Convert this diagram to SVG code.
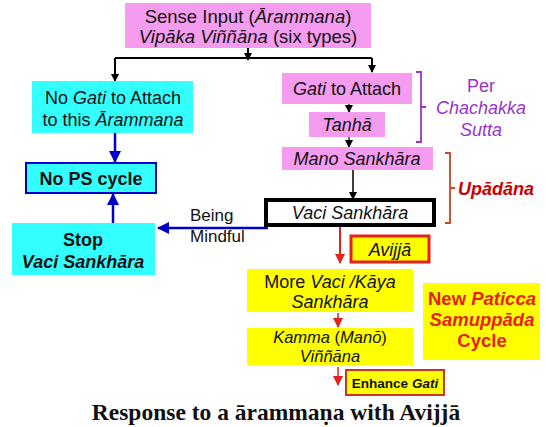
<svg xmlns="http://www.w3.org/2000/svg" width="546" height="427" viewBox="0 0 546 427">
<defs>
<marker id="ak" markerWidth="8" markerHeight="8" refX="7" refY="4" orient="auto" markerUnits="userSpaceOnUse"><path d="M0,0 L8,4 L0,8 Z" fill="#000"/></marker>
<marker id="ab" markerWidth="12" markerHeight="12" refX="11" refY="6" orient="auto" markerUnits="userSpaceOnUse"><path d="M0,0 L12,6 L0,12 Z" fill="#0000cc"/></marker>
<marker id="ar" markerWidth="10" markerHeight="10" refX="9" refY="5" orient="auto" markerUnits="userSpaceOnUse"><path d="M0,0 L10,5 L0,10 Z" fill="#e8201a"/></marker>
</defs>
<style>
text{font-family:"Liberation Sans",Arial,sans-serif;text-anchor:middle;fill:#111}
.pk{fill:#f59cf0}
.cy{fill:#33ffff}
.yl{fill:#ffff00}
.t18{font-size:18.5px}
.t16{font-size:18px}
.b{font-weight:bold}
.i{font-style:italic}
</style>
<rect width="546" height="427" fill="#fff"/>
<g id="connectors" fill="none">
<path d="M248,48 V58 M115,58 H372" stroke="#000" stroke-width="2"/>
<path d="M248,48 V60" stroke="#000" stroke-width="1.5" marker-end="url(#ak)"/>
<path d="M115,58 V81" stroke="#000" stroke-width="2" marker-end="url(#ak)"/>
<path d="M372,58 V72" stroke="#000" stroke-width="2" marker-end="url(#ak)"/>
<path d="M349,104 V112" stroke="#000" stroke-width="1.2" marker-end="url(#ak)"/>
<path d="M349,137 V147" stroke="#000" stroke-width="1.2" marker-end="url(#ak)"/>
<path d="M353,170 V199" stroke="#000" stroke-width="1.5" marker-end="url(#ak)"/>
<path d="M115,133 V162" stroke="#0000cc" stroke-width="2.5" marker-end="url(#ab)"/>
<path d="M113,223 V194" stroke="#0000cc" stroke-width="2.5" marker-end="url(#ab)"/>
<path d="M268,228 H158" stroke="#0000cc" stroke-width="2.5" marker-end="url(#ab)"/>
<path d="M340,226 V263" stroke="#e8201a" stroke-width="2" marker-end="url(#ar)"/>
<path d="M338,313 V327" stroke="#e8201a" stroke-width="1.5" marker-end="url(#ar)"/>
<path d="M338,367 V385" stroke="#e8201a" stroke-width="1.5" marker-end="url(#ar)"/>
<path d="M416,72 H421 V142 H416 M421,107 H426" stroke="#9933cc" stroke-width="1.8"/>
<path d="M445,153 H450 V223 H445 M450,188 H455" stroke="#cc4422" stroke-width="1.8"/>
</g>
<g id="sense-input">
<rect class="pk" x="125" y="3" width="246" height="45"/>
<text class="t18" x="248" y="23">Sense Input (<tspan class="i">Ārammana</tspan>)</text>
<text class="t18" x="248" y="43"><tspan class="i">Vipāka Viññāna</tspan> (six types)</text>
</g>
<g id="no-gati">
<rect class="cy" x="32" y="81" width="161" height="52"/>
<text class="t16" x="113" y="104">No <tspan class="i">Gati</tspan> to Attach</text>
<text class="t16" x="113" y="126">to this <tspan class="i">Ārammana</tspan></text>
</g>
<g id="no-ps-cycle">
<rect class="cy" x="26" y="163" width="130" height="30" stroke="#0000cc" stroke-width="2"/>
<text class="t16 b" x="91" y="185">No PS cycle</text>
</g>
<g id="stop">
<rect class="cy" x="12" y="223" width="143" height="52"/>
<text class="t16 b" x="83" y="246">Stop</text>
<text class="t16 b i" x="83" y="268">Vaci Sankhāra</text>
</g>
<g id="being-mindful">
<text x="190" y="221" style="text-anchor:start;font-size:17px">Being</text>
<text x="190" y="242" style="text-anchor:start;font-size:17px">Mindful</text>
</g>
<g id="gati-attach">
<rect class="pk" x="282" y="73" width="130" height="31"/>
<text class="t16" x="347" y="95"><tspan class="i">Gati</tspan> to Attach</text>
</g>
<g id="tanha">
<rect class="pk" x="309" y="112" width="76" height="25"/>
<text class="t16 i" x="347" y="131">Tanhā</text>
</g>
<g id="chachakka">
<text class="t16" x="481" y="92" style="fill:#9933cc">Per</text>
<text class="t16 i" x="481" y="114" style="fill:#9933cc">Chachakka</text>
<text class="t16 i" x="481" y="136" style="fill:#9933cc">Sutta</text>
</g>
<g id="mano">
<rect class="pk" x="282" y="147" width="151" height="23"/>
<text class="t16 i" x="357" y="165">Mano Sankhāra</text>
</g>
<g id="upadana">
<text class="t16 b i" x="496" y="195" style="fill:#cc0000">Upādāna</text>
</g>
<g id="vaci">
<rect x="266" y="200" width="168" height="25" fill="#fff" stroke="#000" stroke-width="4"/>
<text class="t16 i" x="350" y="219">Vaci Sankhāra</text>
</g>
<g id="avijja">
<rect class="yl" x="351" y="236" width="78" height="26" stroke="#e8201a" stroke-width="3"/>
<text class="t16 i" x="390" y="256">Avijjā</text>
</g>
<g id="more-vaci">
<rect class="yl" x="247" y="269" width="166" height="43"/>
<text class="t16" x="330" y="288">More <tspan class="i">Vaci /Kāya</tspan></text>
<text class="t16 i" x="330" y="308">Sankhāra</text>
</g>
<g id="new-ps">
<rect class="yl" x="423" y="283" width="117" height="77"/>
<text class="t18 b" x="482" y="305" style="fill:#e8201a">New <tspan class="i">Paticca</tspan></text>
<text class="t18 b i" x="482" y="326" style="fill:#e8201a">Samuppāda</text>
<text class="t18 b" x="482" y="347" style="fill:#e8201a">Cycle</text>
</g>
<g id="kamma">
<rect class="yl" x="247" y="328" width="166" height="37"/>
<text class="i" x="330" y="343" style="font-size:16.5px">Kamma <tspan font-style="normal">(</tspan>Manō<tspan font-style="normal">)</tspan></text>
<text class="i" x="330" y="362" style="font-size:16.5px">Viññāna</text>
</g>
<g id="enhance-gati">
<rect class="yl" x="346" y="370" width="98" height="25" stroke="#cc3322" stroke-width="2"/>
<text x="395" y="388" style="font-size:13.5px;font-weight:bold">Enhance <tspan class="i">Gati</tspan></text>
</g>
<g id="title">
<text x="276" y="420" style="font-family:'Liberation Serif','Times New Roman',serif;font-size:23.5px;font-weight:bold">Response to a ārammaṇa with Avijjā</text>
</g>
</svg>
